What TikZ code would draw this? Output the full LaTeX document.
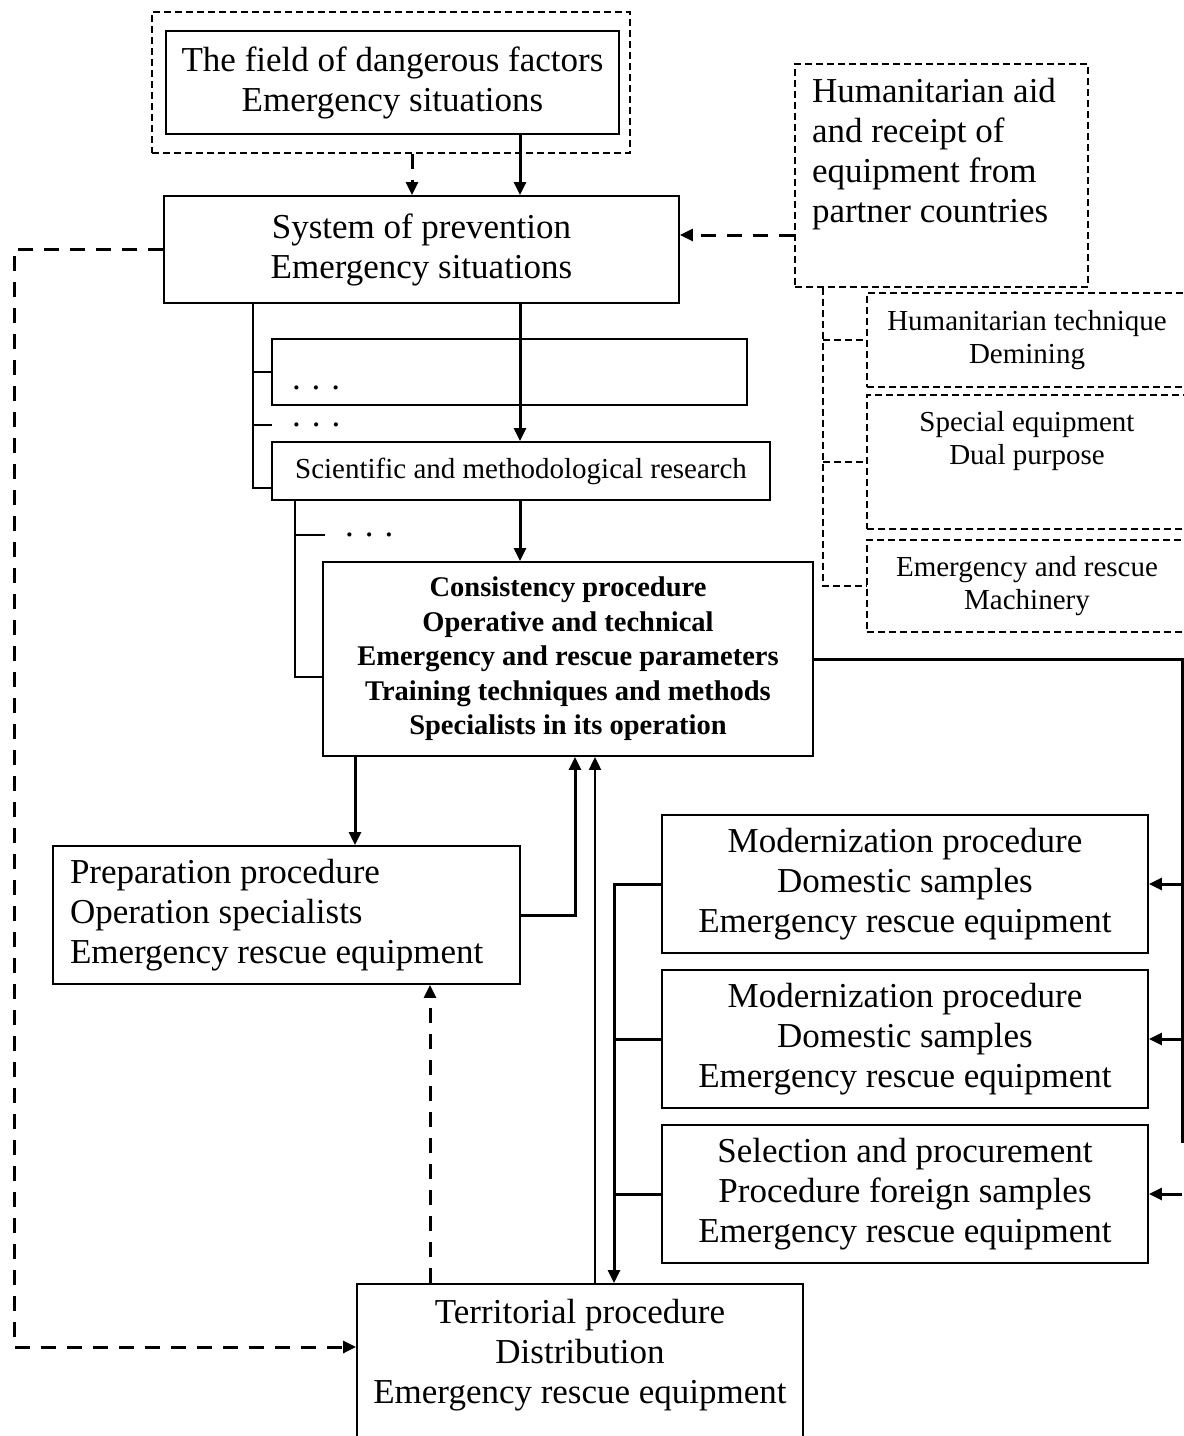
\documentclass[tikz,border=0pt]{standalone}
\usepackage{fontspec}
\setmainfont{Liberation Serif}
\usetikzlibrary{arrows.meta}
\newcommand{\bigtext}{\fontsize{35}{40}\selectfont}
\newcommand{\smalltext}{\fontsize{29}{33}\selectfont}
\newcommand{\boldtext}{\fontsize{28.5}{34.5}\selectfont\bfseries}
\newcommand{\gapdots}{.\hspace{11pt}.\hspace{11pt}.}

\begin{document}
\begin{tikzpicture}[
    x=1pt, y=-1pt,
    box/.style={draw, line width=1.9pt, inner sep=0pt, align=center, font=\bigtext},
    dashbox/.style={draw, line width=1.4pt, dash pattern=on 7pt off 4pt,
        inner sep=0pt, align=center, font=\smalltext},
    dotlbl/.style={inner xsep=20pt, inner ysep=0pt, anchor=west, font=\bigtext},
    wire/.style={line width=3pt},
    arrow/.style={wire, -{Triangle[length=13pt, width=12pt]}},
    dasharrow/.style={arrow, dash pattern=on 15pt off 11pt},
    trunk/.style={line width=1.8pt},
    subdash/.style={line width=1.4pt, dash pattern=on 7pt off 4pt}
]
\useasboundingbox (0,0) rectangle (1184,1436);

% =============================================
% TOP: dangerous factors and prevention
% =============================================
\node[dashbox, minimum width=478pt, minimum height=141pt] (fieldgrp) at (391,82.5) {};
\node[box, minimum width=453pt, minimum height=103pt] (field) at (392.5,82.5)
    {The field of dangerous factors\\Emergency situations};
\node[box, minimum width=515pt, minimum height=107pt] (prevent) at (421.5,249.5)
    {System of prevention\\Emergency situations};

% =============================================
% RIGHT: humanitarian aid
% =============================================
\node[dashbox, font=\bigtext, minimum width=293pt, minimum height=223pt] (aid) at (941.5,175.5)
    {\parbox[c][195pt][t]{259pt}{\raggedright Humanitarian aid\\and receipt of\\equipment from\\partner countries}};
\node[dashbox, minimum width=320pt, minimum height=94pt] (tech1) at (1027,340)
    {Humanitarian technique\\Demining};
\node[dashbox, minimum width=320pt, minimum height=134pt] (tech2) at (1027,462)
    {\parbox[c][102pt][t]{300pt}{\centering Special equipment\\Dual purpose}};
\node[dashbox, minimum width=320pt, minimum height=92pt] (tech3) at (1027,586)
    {Emergency and rescue\\Machinery};

% =============================================
% MIDDLE: research chain
% =============================================
\node[box, minimum width=475pt, minimum height=66pt] (dotbox) at (509.5,372)
    {\parbox[c][36pt][b]{435pt}{\gapdots}};
\node[dotlbl] (dotsA) at (272,425) {\gapdots};
\node[box, font=\smalltext, minimum width=498pt, minimum height=58pt] (research) at (521,471)
    {Scientific and methodological research};
\node[dotlbl] (dotsB) at (325,535) {\gapdots};
\node[box, font=\boldtext, minimum width=490pt, minimum height=194pt] (consist) at (568,659)
    {Consistency procedure\\Operative and technical\\Emergency  and rescue parameters\\
     Training techniques and methods\\Specialists in its operation};
\node[box, align=flush left, text width=433pt, inner xsep=17pt, minimum height=138pt] (prep) at (286.5,915)
    {Preparation procedure\\Operation specialists\\Emergency rescue equipment};

% =============================================
% LOWER RIGHT: equipment procedures
% =============================================
\node[box, minimum width=486pt, minimum height=138pt] (mod1) at (905,884)
    {Modernization procedure\\Domestic samples\\Emergency rescue equipment};
\node[box, minimum width=486pt, minimum height=138pt] (mod2) at (905,1039)
    {Modernization procedure\\Domestic samples\\Emergency rescue equipment};
\node[box, minimum width=486pt, minimum height=138pt] (select) at (905,1194)
    {Selection and procurement\\Procedure foreign samples\\Emergency rescue equipment};
\node[box, minimum width=446pt, minimum height=156pt] (territ) at (580,1362)
    {\parbox[c][126pt][t]{420pt}{\centering Territorial procedure\\Distribution\\Emergency rescue equipment}};

% connector columns and rows
\coordinate (colL) at (14,0);
\coordinate (trunkL) at (253,0);
\coordinate (trunkM) at (295,0);
\coordinate (colP) at (355,0);
\coordinate (colA) at (412,0);
\coordinate (colT) at (430,0);
\coordinate (colB) at (520,0);
\coordinate (colU1) at (575,0);
\coordinate (colU2) at (595,0);
\coordinate (colD) at (614,0);
\coordinate (colH) at (823,0);
\coordinate (colR) at (1182,0);
\coordinate (rowAid) at (0,235);
\coordinate (rowL) at (0,1347);
\coordinate (rowRb) at (0,1143);

% top arrows
\draw[dasharrow] (fieldgrp.south -| colA) -- (prevent.north -| colA);
\draw[arrow] (field.south -| colB) -- (prevent.north -| colB);
\draw[dasharrow] (aid.west |- rowAid) -- (prevent.east |- rowAid);

% aid branches
\draw[subdash] (aid.south -| colH) |- (tech3.west);
\draw[subdash] (colH |- tech1.west) -- (tech1.west);
\draw[subdash] (colH |- tech2.west) -- (tech2.west);

% left trunks
\draw[trunk] (prevent.south -| trunkL) |- ([yshift=13pt]research.south west);
\draw[trunk] (trunkL |- dotbox.west) -- (dotbox.west);
\draw[trunk] (trunkL |- dotsA.west) -- (dotsA.west);
\draw[trunk] (research.south -| trunkM) |- ([yshift=-18pt]consist.west);
\draw[trunk] (trunkM |- dotsB.west) -- (dotsB.west);

% main chain
\draw[arrow] (prevent.south -| colB) -- (research.north -| colB);
\draw[arrow] (research.south -| colB) -- (consist.north -| colB);
\draw[arrow] (consist.south -| colP) -- (prep.north -| colP);
\draw[arrow] (prep.east) -| (consist.south -| colU1);
\draw[arrow, line width=2.2pt] (territ.north -| colU2) -- (consist.south -| colU2);
\draw[dasharrow] (territ.north -| colT) -- (prep.south -| colT);
\draw[dasharrow] (prevent.west) -| (colL |- rowL) -- (territ.west |- rowL);

% right side feedback
\draw[wire] (consist.east) -| (colR |- rowRb);
\draw[arrow] (colR |- mod1.east) -- (mod1.east);
\draw[arrow] (colR |- mod2.east) -- (mod2.east);
\draw[arrow] (colR |- select.east) -- (select.east);

% procedures to territorial
\draw[arrow] (mod1.west) -| (territ.north -| colD);
\draw[wire] (mod2.west) -- (colD |- mod2.west);
\draw[wire] (select.west) -- (colD |- select.west);

\end{tikzpicture}
\end{document}
